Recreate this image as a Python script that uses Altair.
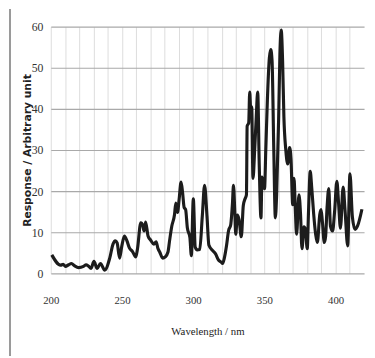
import altair as alt
import pandas as pd

wavelength = [200.7, 206.9, 208.7, 210.3, 212.6, 214.5, 216.8, 219.5, 223.0, 224.8,
              226.4, 228.3, 230.3, 232.6, 234.9, 237.9, 241.4, 243.7, 245.3, 246.6,
              248.3, 249.9, 251.7, 253.5, 255.2, 257.4, 259.7, 260.9, 263.2, 264.6,
              265.5, 266.6, 268.3, 270.1, 272.4, 274.0, 275.2, 276.5, 278.6, 280.4,
              282.3, 283.4, 285.0, 286.9, 287.8, 289.0, 290.1, 291.5, 292.6, 293.6,
              294.7, 295.9, 297.7, 298.7, 300.1, 301.4, 302.8, 304.6, 306.4, 308.0,
              309.7, 311.0, 313.8, 315.6, 317.9, 319.5, 320.7, 321.8, 323.4, 324.8,
              326.4, 327.6, 328.3, 329.2, 329.9, 331.0, 332.2, 333.8, 335.2, 336.5,
              337.4, 337.9, 339.0, 339.7, 340.4, 341.1, 342.0, 343.2, 344.3, 345.3,
              346.4, 347.6, 348.3, 349.4, 350.1, 351.0, 352.1, 353.5, 354.5, 355.4,
              356.6, 357.7, 358.6, 360.0, 360.9, 361.8, 362.8, 363.7, 365.0, 366.4,
              367.7, 368.7, 369.9, 370.8, 371.7, 372.6, 374.3, 375.4, 376.4, 377.8,
              378.8, 380.1, 381.0, 382.2, 383.3, 384.6, 386.0, 387.2, 388.9, 389.8,
              390.7, 392.1, 393.0, 394.0, 395.2, 396.4, 397.9, 399.3, 400.9, 402.1,
              403.4, 405.3, 406.7, 408.5, 410.1, 411.8, 413.7, 415.5, 418.5]
response = [4.5, 2.0, 2.2, 1.7, 2.1, 2.4, 1.8, 1.4, 1.7, 2.1,
            1.8, 1.2, 2.9, 1.2, 2.4, 0.8, 3.7, 7.1, 7.9, 7.4,
            3.7, 6.7, 9.1, 7.9, 6.2, 5.3, 4.0, 6.0, 12.3, 11.7,
            10.3, 12.5, 9.1, 8.1, 7.1, 7.7, 6.1, 5.2, 3.7, 4.0,
            5.2, 7.9, 11.5, 14.3, 17.1, 14.8, 17.9, 22.2, 19.5, 16.1,
            15.5, 11.1, 8.7, 4.3, 18.1, 6.4, 5.7, 5.8, 13.9, 21.4,
            13.9, 6.9, 5.5, 4.8, 3.2, 2.8, 2.4, 3.6, 6.7, 10.3,
            11.9, 17.1, 21.4, 15.1, 9.5, 14.2, 13.1, 8.9, 16.5, 18.2,
            19.1, 35.8, 36.6, 44.1, 39.8, 40.5, 23.1, 30.2, 38.1, 44.1,
            26.2, 13.5, 23.4, 21.4, 20.6, 30.2, 42.1, 52.4, 54.4, 51.6,
            30.2, 13.5, 19.1, 37.4, 53.2, 59.2, 51.6, 38.1, 30.2, 26.6,
            30.6, 27.8, 16.7, 23.1, 15.9, 9.5, 19.1, 14.3, 6.0, 11.3,
            10.7, 6.0, 15.1, 24.8, 20.6, 14.5, 9.5, 7.5, 14.3, 15.5,
            12.7, 7.5, 9.0, 15.9, 20.6, 11.5, 10.3, 15.0, 22.4, 17.1,
            11.0, 21.0, 15.0, 6.7, 24.2, 13.7, 10.7, 11.6, 15.6]

x_grid = list(range(200, 420, 10))
y_ticks = [0, 10, 20, 30, 40, 50, 60]

df = pd.DataFrame({"wl": wavelength, "resp": response})

line = alt.Chart(df).mark_line(color="#1c1c1c", strokeWidth=3.2, strokeJoin="round",
                               interpolate="monotone").encode(
    x=alt.X("wl:Q", scale=alt.Scale(domain=[200, 420], nice=False, zero=False),
            axis=alt.Axis(values=x_grid, grid=True, gridColor="#dcdcdc", gridWidth=1,
                          domain=False, ticks=False, labelFlush=False,
                          labelExpr="datum.value % 50 == 0 ? datum.label : ''",
                          labelPadding=22, labelFont="Liberation Sans Narrow",
                          labelFontSize=11, labelColor="#333333",
                          title="Wavelength / nm", titleFont="Liberation Sans Narrow",
                          titleFontSize=11, titleFontWeight="normal", titleColor="#222222",
                          titleY=59, titleBaseline="middle")),
    y=alt.Y("resp:Q", scale=alt.Scale(domain=[0, 60], nice=False),
            axis=alt.Axis(values=y_ticks, grid=True, gridColor="#a9a9a9", gridWidth=1.2,
                          domain=False, ticks=False, labelPadding=8,
                          labelFont="Liberation Sans Narrow", labelFontSize=12,
                          labelColor="#333333",
                          title="Response / Arbitrary unit", titleFont="DejaVu Sans",
                          titleFontSize=11, titleFontWeight="bold", titleColor="#222222",
                          titleX=-24, titleY=126, titleAngle=270, titleAlign="center",
                          titleBaseline="middle")),
)

border = alt.Chart(df).mark_rule(color="#9a9a9a", strokeWidth=1).encode(
    x=alt.value(-41.7), y=alt.value(-18), y2=alt.value(336)
)

chart = alt.layer(border, line).properties(
    width=320, height=252,
    autosize=alt.AutoSizeParams(type="none"),
    padding={"left": 43.7, "top": 15.3, "right": 3, "bottom": 83},
).configure_view(stroke=None)

chart.save("out.html", embed_options={"renderer": "svg", "actions": False})
